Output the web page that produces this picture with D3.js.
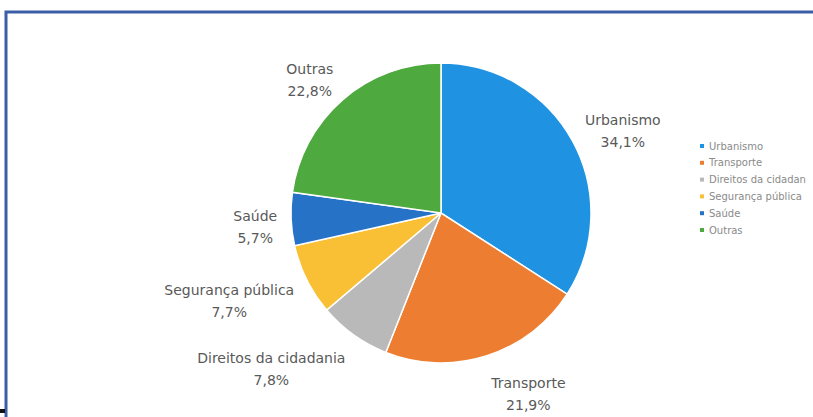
<!DOCTYPE html>
<html>
<head>
<meta charset="utf-8">
<script src="https://cdn.jsdelivr.net/npm/d3@7"></script>
<style>
  body { margin: 0; background: #fff; }
  svg { display: block; }
  text { font-family: "DejaVu Sans", "Open Sans", sans-serif; }
</style>
</head>
<body>
<div id="chart"></div>
<script>
// data
const categories = ["Urbanismo", "Transporte", "Direitos da cidadania", "Segurança pública", "Saúde", "Outras"];
const values = [34.1, 21.9, 7.8, 7.7, 5.7, 22.8];
const valueLabels = ["34,1%", "21,9%", "7,8%", "7,7%", "5,7%", "22,8%"];
const colors = ["#1f92e2", "#ed7d31", "#b9b9b9", "#f9bf35", "#2572c6", "#4ea93e"];

const width = 813, height = 417;
const cx = 441, cy = 213, radius = 150;

const svg = d3.select("#chart").append("svg")
    .attr("width", width)
    .attr("height", height);

// frame of the chart area (runs off the right and bottom edge)
svg.append("rect")
    .attr("x", 6).attr("y", 12)
    .attr("width", 840).attr("height", 440)
    .attr("fill", "#fff")
    .attr("stroke", "#3b5ea6")
    .attr("stroke-width", 3);

// little dark corner bit at bottom left
svg.append("rect")
    .attr("x", 0).attr("y", 409)
    .attr("width", 5).attr("height", 4)
    .attr("fill", "#111");

let rows = categories.map((c, i) => ({name: c, value: values[i], label: valueLabels[i], color: colors[i]}));

let pie = d3.pie().sort(null).value(d => d.value);
let arc = d3.arc().innerRadius(0).outerRadius(radius);
let arcs = pie(rows);

let g = svg.append("g").attr("transform", `translate(${cx},${cy})`);

g.selectAll("path")
    .data(arcs)
    .enter().append("path")
    .attr("d", arc)
    .attr("fill", d => d.data.color)
    .attr("stroke", "#fff")
    .attr("stroke-width", 1.5);

// data labels, placed outside the slice edge like Excel does
let gap = 14, lineGap = 22;
let labels = g.selectAll("g.lbl")
    .data(arcs)
    .enter().append("g")
    .attr("class", "lbl");

labels.each(function(d) {
    let el = d3.select(this);
    let t1 = el.append("text").attr("text-anchor", "middle")
        .attr("font-size", 14).attr("fill", "#595959").text(d.data.name);
    let t2 = el.append("text").attr("text-anchor", "middle")
        .attr("font-size", 14).attr("fill", "#595959").text(d.data.label);
    let w = Math.max(t1.node().getComputedTextLength(), t2.node().getComputedTextLength()) / 2;
    let a = (d.startAngle + d.endAngle) / 2;
    let s = Math.sin(a), c = Math.cos(a);
    let px = (radius + gap) * s, py = -(radius + gap) * c;
    let x = px + Math.sign(s) * w * Math.min(1, Math.abs(s) * 6);
    let y = py - c * 20 + 6;
    t1.attr("x", x).attr("y", y - lineGap / 2 + 5);
    t2.attr("x", x).attr("y", y + lineGap / 2 + 5);
});

// legend (cut off on the right like the original)
svg.append("clipPath").attr("id", "legclip")
    .append("rect").attr("x", 690).attr("y", 100).attr("width", 116).attr("height", 200);

let legend = svg.append("g").attr("clip-path", "url(#legclip)")
    .append("g").attr("transform", "translate(702,146)");
let item = legend.selectAll("g")
    .data(rows)
    .enter().append("g")
    .attr("transform", (d, i) => `translate(0,${i * 16.8})`);
item.append("rect")
    .attr("x", -2).attr("y", -2)
    .attr("width", 4).attr("height", 4)
    .attr("fill", d => d.color);
item.append("text")
    .attr("x", 7).attr("y", 3.5)
    .attr("font-size", 10)
    .attr("fill", "#8a8a8a")
    .text(d => d.name);
</script>
</body>
</html>
